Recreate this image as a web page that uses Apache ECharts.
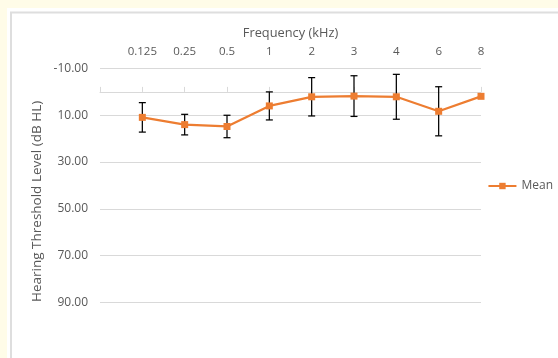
<!DOCTYPE html>
<html>
<head>
<meta charset="utf-8">
<script src="https://cdn.jsdelivr.net/npm/echarts@6/dist/echarts.min.js"></script>
<style>
html,body{margin:0;padding:0;background:#FFFCE8;}
#c{width:558px;height:358px;}
</style>
</head>
<body>
<div id="c"></div>
<script>
// Categories (first slot is an empty padding category, as in the reference)
const categories = ["", "0.125", "0.25", "0.5", "1", "2", "3", "4", "6", "8"];
// Mean hearing threshold (dB HL)
const meanValues = [null, 10.9, 14.0, 14.8, 6.0, 2.1, 1.8, 2.1, 8.3, 1.9];
// Error bar half-length (SD)
const sdValues = [null, 6.3, 4.4, 4.8, 6.0, 8.2, 8.7, 9.6, 10.5, 0];
const yTicks = [-10, 10, 30, 50, 70, 90];

const errData = [];
for (let i = 0; i < categories.length; i++) {
  if (meanValues[i] != null && sdValues[i]) {
    errData.push([i, meanValues[i] - sdValues[i], meanValues[i] + sdValues[i]]);
  }
}

const chart = echarts.init(document.getElementById('c'), null, {renderer: 'canvas'});
const txt = '#595959';
const font = 'Open Sans';
chart.setOption({
  animation: false,
  textStyle: {fontFamily: font},
  graphic: [
    {type: 'rect', z: -10, silent: true, shape: {x: 7, y: 8, width: 560, height: 360}, style: {fill: '#ffffff'}},
    {type: 'rect', z: -9, silent: true, shape: {x: 11, y: 12.5, width: 560, height: 360}, style: {fill: '#ffffff', stroke: '#dedede', lineWidth: 2}}
  ],
  grid: {left: 100, right: 77, top: 68.5, bottom: 55.7, containLabel: false},
  legend: {
    right: 5, top: 180, orient: 'vertical', padding: 0,
    itemWidth: 28, itemHeight: 8, itemGap: 4,
    textStyle: {color: txt, fontSize: 12, fontFamily: font},
    data: ['Mean']
  },
  xAxis: [
    {
      type: 'category', data: categories, position: 'top', boundaryGap: false,
      axisLine: {show: false}, axisTick: {show: false},
      axisLabel: {color: txt, fontSize: 11.5, margin: 11, fontFamily: font},
      name: 'Frequency (kHz)', nameLocation: 'middle', nameGap: 29, nameMoveOverlap: false,
      nameTextStyle: {color: txt, fontSize: 12.8, fontFamily: font}
    },
    {
      type: 'category', data: categories, position: 'bottom', boundaryGap: false,
      axisLine: {show: true, onZero: true, onZeroAxisIndex: 0, lineStyle: {color: '#d9d9d9', width: 1}},
      axisTick: {show: true, inside: true, length: 5, alignWithLabel: true, lineStyle: {color: '#d9d9d9'}},
      axisLabel: {show: false}
    }
  ],
  yAxis: {
    type: 'value', inverse: true, min: -10, max: 90, interval: 20,
    axisLine: {show: false}, axisTick: {show: false},
    splitLine: {lineStyle: {color: '#d9d9d9', width: 1}},
    axisLabel: {color: txt, fontSize: 12, margin: 12, fontFamily: font,
      formatter: v => yTicks.indexOf(v) >= 0 ? v.toFixed(2) : ''},
    name: 'Hearing Threshold Level (dB HL)', nameLocation: 'middle', nameGap: 56, nameMoveOverlap: false,
    nameTextStyle: {color: txt, fontSize: 13.5, fontFamily: font, padding: [0, 32, 0, 0]}
  },
  series: [
    {
      name: 'Mean', type: 'line', data: meanValues, xAxisIndex: 0,
      symbol: 'rect', symbolSize: 7, connectNulls: false,
      itemStyle: {color: '#ED7D31'},
      lineStyle: {color: '#ED7D31', width: 2.25},
      z: 3
    },
    {
      name: 'SD', type: 'custom', xAxisIndex: 0, data: errData, z: 2,
      renderItem: function (params, api) {
        const x = api.value(0);
        const p1 = api.coord([x, api.value(1)]);
        const p2 = api.coord([x, api.value(2)]);
        const hw = 3.5;
        const st = {stroke: '#000', lineWidth: 1.25};
        return {
          type: 'group',
          children: [
            {type: 'line', shape: {x1: p1[0], y1: p1[1], x2: p2[0], y2: p2[1]}, style: st},
            {type: 'line', shape: {x1: p1[0] - hw, y1: p1[1], x2: p1[0] + hw, y2: p1[1]}, style: st},
            {type: 'line', shape: {x1: p2[0] - hw, y1: p2[1], x2: p2[0] + hw, y2: p2[1]}, style: st}
          ]
        };
      }
    }
  ]
});
</script>
</body>
</html>
